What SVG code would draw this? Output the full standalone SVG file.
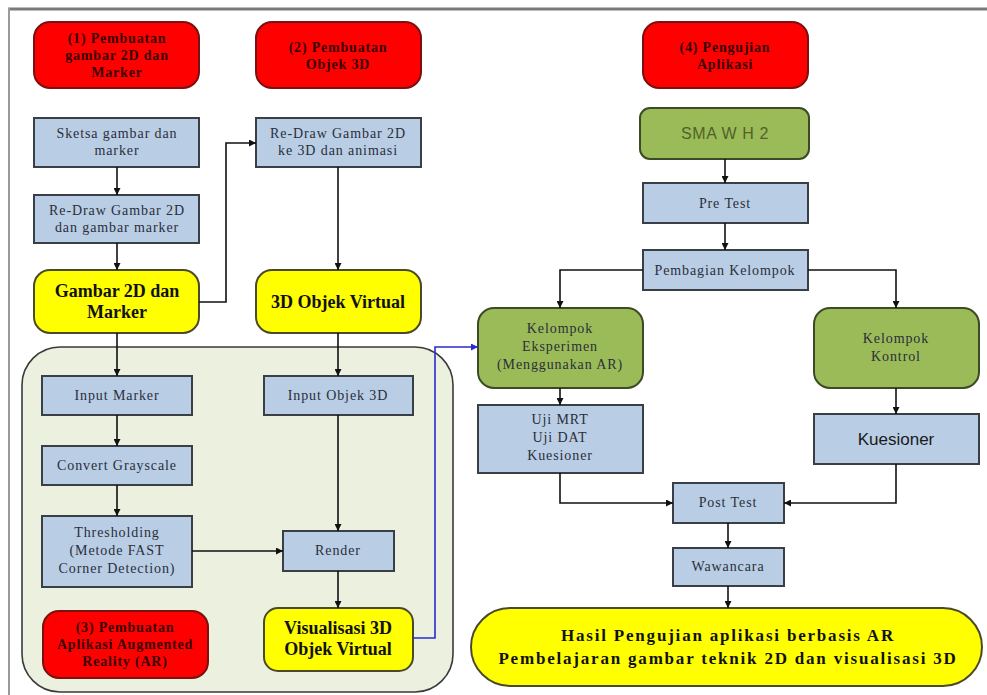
<svg xmlns="http://www.w3.org/2000/svg" width="987" height="695" viewBox="0 0 987 695">
<defs>
<marker id="ah" viewBox="0 0 10 10" refX="10" refY="5" markerWidth="7" markerHeight="7" orient="auto" markerUnits="userSpaceOnUse"><path d="M0,0 L10,5 L0,10 z" fill="#111"/></marker>
<marker id="ahb" viewBox="0 0 10 10" refX="10" refY="5" markerWidth="7" markerHeight="7" orient="auto" markerUnits="userSpaceOnUse"><path d="M0,0 L10,5 L0,10 z" fill="#2a2ad0"/></marker>
<style>
.red{fill:#ff0000;stroke:#7a1010;stroke-width:2}
.blue{fill:#b9cde5;stroke:#3a3f47;stroke-width:2}
.yel{fill:#ffff00;stroke:#4a4a2a;stroke-width:2}
.grn{fill:#9bbb59;stroke:#3c4a25;stroke-width:2}
.cont{fill:#ebf1de;stroke:#3a3a3a;stroke-width:1.6}
text{font-family:"Liberation Serif","Times New Roman",serif;text-anchor:middle;fill:#222}
.t{font-size:14px;letter-spacing:0.9px;fill:#2a2f3a}
.r{font-size:14px;font-weight:bold;letter-spacing:0.8px;fill:#3a0000}
.b{font-size:18px;font-weight:bold;fill:#111}
.h{font-size:17px;font-weight:bold;letter-spacing:1.8px;fill:#111}
.s{font-family:"Liberation Sans",Arial,sans-serif;font-size:17px;fill:#1a1a1a}
.c line,.c path{stroke:#111;stroke-width:1.6;fill:none;marker-end:url(#ah)}
</style>
</defs>
<rect width="987" height="695" fill="#ffffff"/>
<line x1="8" y1="9" x2="987" y2="9" stroke="#7a7a7a" stroke-width="3"/>
<line x1="9" y1="8" x2="9" y2="695" stroke="#9a9a9a" stroke-width="2"/>

<g id="container"><rect class="cont" x="22" y="347" width="431" height="345" rx="38"/></g>

<g id="red1"><rect class="red" x="34" y="22" width="165" height="66" rx="16"/><text class="r" x="117" y="43">(1) Pembuatan</text><text class="r" x="117" y="60">gambar 2D dan</text><text class="r" x="117" y="77">Marker</text></g>
<g id="red2"><rect class="red" x="256" y="22" width="165" height="66" rx="16"/><text class="r" x="338" y="52">(2) Pembuatan</text><text class="r" x="338" y="69">Objek 3D</text></g>
<g id="red4"><rect class="red" x="643" y="22" width="165" height="66" rx="16"/><text class="r" x="725" y="52">(4) Pengujian</text><text class="r" x="725" y="69">Aplikasi</text></g>
<g id="red3"><rect class="red" x="43" y="611" width="165" height="67" rx="16"/><text class="r" x="125" y="632">(3) Pembuatan</text><text class="r" x="125" y="649">Aplikasi Augmented</text><text class="r" x="125" y="666">Reality (AR)</text></g>

<g id="sketsa"><rect class="blue" x="34" y="118" width="165" height="49"/><text class="t" x="117" y="138">Sketsa gambar dan</text><text class="t" x="117" y="155">marker</text></g>
<g id="redraw2d"><rect class="blue" x="34" y="195" width="165" height="48"/><text class="t" x="117" y="215">Re-Draw Gambar 2D</text><text class="t" x="117" y="232">dan gambar marker</text></g>
<g id="redraw3d"><rect class="blue" x="256" y="118" width="165" height="49"/><text class="t" x="338" y="138">Re-Draw Gambar 2D</text><text class="t" x="338" y="155">ke 3D dan animasi</text></g>

<g id="gambar2d"><rect class="yel" x="34" y="270" width="165" height="63" rx="16"/><text class="b" x="117" y="297">Gambar 2D dan</text><text class="b" x="117" y="318">Marker</text></g>
<g id="objek3d"><rect class="yel" x="256" y="270" width="165" height="63" rx="16"/><text class="b" x="338" y="308">3D Objek Virtual</text></g>

<g id="inputmarker"><rect class="blue" x="42" y="376" width="150" height="39"/><text class="t" x="117" y="400">Input Marker</text></g>
<g id="convert"><rect class="blue" x="42" y="446" width="150" height="39"/><text class="t" x="117" y="470">Convert Grayscale</text></g>
<g id="threshold"><rect class="blue" x="42" y="516" width="150" height="71"/><text class="t" x="117" y="537">Thresholding</text><text class="t" x="117" y="555">(Metode FAST</text><text class="t" x="117" y="573">Corner Detection)</text></g>
<g id="inputobjek"><rect class="blue" x="264" y="376" width="149" height="39"/><text class="t" x="338" y="400">Input Objek 3D</text></g>
<g id="render"><rect class="blue" x="283" y="531" width="111" height="40"/><text class="t" x="338" y="555">Render</text></g>
<g id="visual"><rect class="yel" x="264" y="608" width="149" height="63" rx="14"/><text class="b" x="338" y="634">Visualisasi 3D</text><text class="b" x="338" y="655">Objek Virtual</text></g>

<g id="sma"><rect class="grn" x="640" y="108" width="169" height="51" rx="10"/><text x="725" y="139" style="font-family:'Liberation Sans',Arial,sans-serif;font-size:16px;letter-spacing:0.6px;fill:#4f6228">SMA W H 2</text></g>
<g id="pretest"><rect class="blue" x="643" y="183" width="165" height="40"/><text class="t" x="725" y="208">Pre Test</text></g>
<g id="pembagian"><rect class="blue" x="643" y="250" width="165" height="40"/><text class="t" x="725" y="275">Pembagian Kelompok</text></g>
<g id="eksperimen"><rect class="grn" x="478" y="308" width="165" height="80" rx="16"/><text class="t" x="560" y="333">Kelompok</text><text class="t" x="560" y="351">Eksperimen</text><text class="t" x="560" y="369">(Menggunakan AR)</text></g>
<g id="kontrol"><rect class="grn" x="814" y="308" width="165" height="80" rx="16"/><text class="t" x="896" y="343">Kelompok</text><text class="t" x="896" y="361">Kontrol</text></g>
<g id="uji"><rect class="blue" x="478" y="405" width="165" height="68"/><text class="t" x="560" y="424">Uji MRT</text><text class="t" x="560" y="442">Uji DAT</text><text class="t" x="560" y="460">Kuesioner</text></g>
<g id="kuesioner"><rect class="blue" x="814" y="414" width="165" height="50"/><text class="s" x="896" y="445">Kuesioner</text></g>
<g id="posttest"><rect class="blue" x="673" y="483" width="111" height="40"/><text class="t" x="728" y="507">Post Test</text></g>
<g id="wawancara"><rect class="blue" x="673" y="548" width="111" height="38"/><text class="t" x="728" y="571">Wawancara</text></g>
<g id="hasil"><rect class="yel" x="471" y="608" width="511" height="78" rx="39"/><text class="h" x="728" y="641">Hasil Pengujian aplikasi berbasis AR</text><text class="h" x="728" y="664">Pembelajaran gambar teknik 2D dan visualisasi 3D</text></g>

<g id="connectors" class="c">
<line x1="117" y1="167" x2="117" y2="195"/>
<line x1="117" y1="243" x2="117" y2="270"/>
<path d="M199,302 H226 V143 H256"/>
<line x1="338" y1="167" x2="338" y2="270"/>
<line x1="117" y1="333" x2="117" y2="376"/>
<line x1="117" y1="415" x2="117" y2="446"/>
<line x1="117" y1="485" x2="117" y2="516"/>
<line x1="192" y1="551" x2="283" y2="551"/>
<line x1="338" y1="333" x2="338" y2="376"/>
<line x1="338" y1="415" x2="338" y2="531"/>
<line x1="338" y1="571" x2="338" y2="608"/>
<path d="M413,638 H435 V347 H478" style="stroke:#2a2ad0;marker-end:url(#ahb)"/>
<line x1="725" y1="159" x2="725" y2="183"/>
<line x1="725" y1="223" x2="725" y2="250"/>
<path d="M643,270 H560 V308"/>
<path d="M808,270 H896 V308"/>
<line x1="560" y1="388" x2="560" y2="405"/>
<line x1="896" y1="388" x2="896" y2="414"/>
<path d="M560,473 V503 H673"/>
<path d="M896,464 V503 H784"/>
<line x1="728" y1="523" x2="728" y2="548"/>
<line x1="728" y1="586" x2="728" y2="608"/>
</g>
</svg>
